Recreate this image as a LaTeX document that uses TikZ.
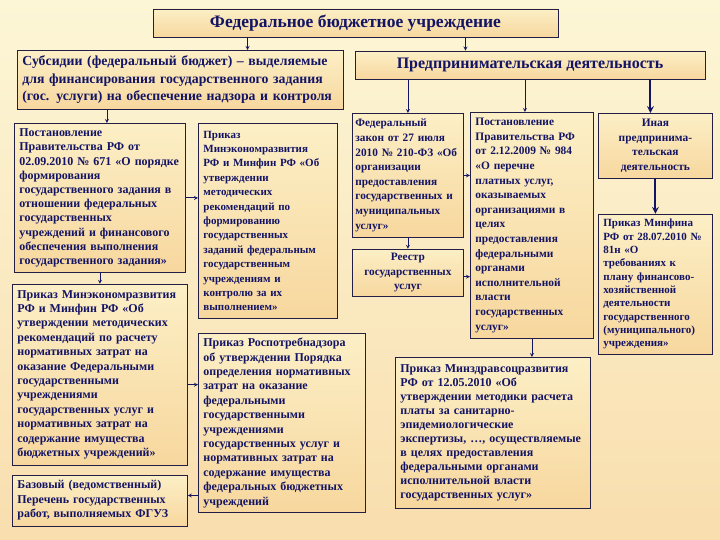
\documentclass[tikz,border=0pt]{standalone}
\usepackage{fontspec}
\setmainfont{Liberation Serif}
\usetikzlibrary{arrows,positioning}
\definecolor{ink}{RGB}{20,20,100}
\definecolor{boxline}{RGB}{35,30,70}
\definecolor{paperTop}{RGB}{252,246,214}
\definecolor{paperBottom}{RGB}{249,222,174}
\definecolor{boxTop}{RGB}{252,239,198}
\definecolor{boxBottom}{RGB}{247,215,158}
\tikzset{
	doc/.style={
		rectangle,
		draw=boxline,
		line width=0.8pt,
		top color=boxTop,
		bottom color=boxBottom,
		text=ink,
		align=left,
		inner xsep=5pt,
		inner ysep=2pt,
		font=\bfseries\fontsize{12}{14.4}\selectfont,
	},
	headbox/.style={
		doc,
		align=center,
		font=\bfseries\fontsize{16}{18}\selectfont,
	},
}

\begin{document}
\begin{tikzpicture}[x=1pt, y=-1pt, >=stealth, node distance=11pt]

	\tikzstyle{link}=[->, draw=ink, line width=0.8pt]
	\tikzstyle{biglink}=[->, draw=ink, line width=2pt]

	\shade [top color=paperTop, bottom color=paperBottom] (0,0) rectangle (720,540);
	\useasboundingbox (0,0) rectangle (720,540);

	\node [headbox, minimum width=405pt, minimum height=28pt, font=\bfseries\fontsize{17.5}{20}\selectfont] (fbu) at (355.5,23) {Федеральное бюджетное учреждение};
	\node [doc, anchor=north west, text width=316pt, minimum height=59pt, font=\bfseries\fontsize{13.8}{17.5}\selectfont] (subs) at (17,50) {Субсидии (федеральный бюджет) – выделяемые\\для финансирования государственного задания\\(гос. услуги) на обеспечение надзора и контроля};
	\node [headbox, minimum width=350pt, minimum height=28pt] (biz) at (530,65) {Предпринимательская деятельность};

	% budget column
	\node [doc, anchor=north west, text width=161pt, minimum height=149pt, font=\bfseries\fontsize{12}{14.2}\selectfont] (pp671) at (14,123) {Постановление\\Правительства РФ от\\02.09.2010 № 671 «О порядке\\формирования\\государственного задания в\\отношении федеральных\\государственных\\учреждений и финансового\\обеспечения выполнения\\государственного задания»};
	\node [doc, text width=165pt, minimum height=181pt] (me1) [below =of pp671] {Приказ Минэкономразвития\\РФ и Минфин РФ «Об\\утверждении методических\\рекомендаций по расчету\\нормативных затрат на\\оказание Федеральными\\государственными\\учреждениями\\государственных услуг и\\нормативных затрат на\\содержание имущества\\бюджетных учреждений»};
	\node [doc, text width=165pt, minimum height=51pt] (base) [node distance=9pt, below =of me1] {Базовый (ведомственный)\\Перечень государственных\\работ, выполняемых ФГУЗ};
	\node [doc, anchor=north west, text width=129pt, minimum height=195pt, font=\bfseries\fontsize{11}{14.4}\selectfont] (me2) at (198,123) {Приказ\\Минэкономразвития\\РФ и Минфин РФ «Об\\утверждении\\методических\\рекомендаций по\\формированию\\государственных\\заданий федеральным\\государственным\\учреждениям и\\контролю за их\\выполнением»};
	\node [doc, anchor=north west, text width=157pt, minimum height=179pt] (rpn) at (198,333) {Приказ Роспотребнадзора\\об утверждении Порядка\\определения нормативных\\затрат на оказание\\федеральными\\государственными\\учреждениями\\государственных услуг и\\нормативных затрат на\\содержание имущества\\федеральных бюджетных\\учреждений};

	% business column
	\node [doc, anchor=north west, inner xsep=3pt, text width=105pt, minimum height=124pt, font=\bfseries\fontsize{11.3}{14.6}\selectfont] (fz210) at (352,113) {Федеральный\\закон от 27 июля\\2010 № 210-ФЗ «Об\\организации\\предоставления\\государственных и\\муниципальных\\услуг»};
	\node [doc, align=center, inner xsep=3pt, text width=105pt, minimum height=47pt, font=\bfseries\fontsize{11.3}{14.6}\selectfont] (reestr) [below =of fz210] {Реестр\\государственных\\услуг};
	\node [doc, anchor=north west, text width=113pt, minimum height=226pt, font=\bfseries\fontsize{11.4}{14.6}\selectfont] (pp984) at (470,112) {Постановление\\Правительства РФ\\от 2.12.2009 № 984\\«О перечне\\платных услуг,\\оказываемых\\организациями в\\целях\\предоставления\\федеральными\\органами\\исполнительной\\власти\\государственных\\услуг»};
	\node [doc, anchor=north west, text width=185pt, minimum height=151pt, font=\bfseries\fontsize{12}{14.1}\selectfont] (mzsr) at (395,357) {Приказ Минздравсоцразвития\\РФ от 12.05.2010 «Об\\утверждении методики расчета\\платы за санитарно-\\эпидемиологические\\экспертизы, …, осуществляемые\\в целях предоставления\\федеральными органами\\исполнительной власти\\государственных услуг»};
	\node [doc, anchor=north west, align=center, text width=104pt, minimum height=65pt, font=\bfseries\fontsize{11.4}{14.5}\selectfont] (other) at (598,113) {Иная\\предпринима-\\тельская\\деятельность};
	\node [doc, text width=104pt, minimum height=140pt, font=\bfseries\fontsize{11}{13.3}\selectfont] (mf81n) [node distance=35pt, below =of other] {Приказ Минфина\\РФ от 28.07.2010 №\\81н «О\\требованиях к\\плану финансово-\\хозяйственной\\деятельности\\государственного\\(муниципального)\\учреждения»};

	% connectors
	\draw [link] ([xshift=-108pt]fbu.south) -- ([xshift=-108pt]fbu.south |- subs.north);
	\draw [link] ([xshift=110pt]fbu.south) -- ([xshift=110pt]fbu.south |- biz.north);
	\draw [link] ([xshift=7pt]pp671.north |- subs.south) -- ([xshift=7pt]pp671.north);
	\draw [link] (pp671) -- (me1);
	\draw [link] (pp671.east) -- (pp671.east -| me2.west);
	\draw [link] ([yshift=-10pt]me1.east) -- ([yshift=-10pt]me1.east -| rpn.west);
	\draw [link] ([yshift=5pt]base.east -| rpn.west) -- ([yshift=5pt]base.east);
	\draw [link] (biz.south -| fz210.north) -- (fz210.north);
	\draw [link] ([xshift=-7pt]biz.south -| pp984.north) -- ([xshift=-7pt]pp984.north);
	\draw [biglink] ([xshift=-5pt]biz.south -| other.north) -- ([xshift=-5pt]other.north);
	\draw [link] (fz210) -- (reestr);
	\draw [link] (fz210.east) -- (fz210.east -| pp984.west);
	\draw [link] ([yshift=-4pt]reestr.east) -- ([yshift=-4pt]reestr.east -| pp984.west);
	\draw [link] (pp984.south) -- (pp984.south |- mzsr.north);
	\draw [biglink] (other) -- (mf81n);
\end{tikzpicture}
\end{document}
